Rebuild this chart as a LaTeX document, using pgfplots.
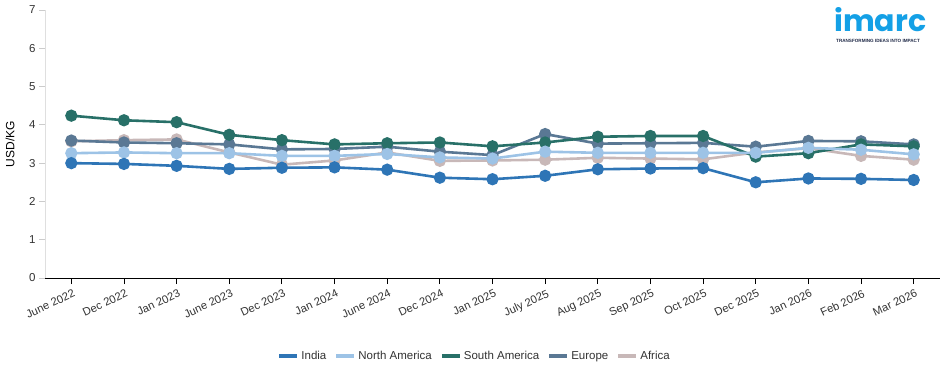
\documentclass[border=0pt]{standalone}
\usepackage{pgfplots}
\pgfplotsset{compat=1.18}
\usepackage{fontspec}
\setmainfont{Liberation Sans}
\newfontfamily\logofont{Poppins}
\definecolor{cIndia}{RGB}{46,117,182}
\definecolor{cNA}{RGB}{157,195,230}
\definecolor{cSA}{RGB}{40,112,104}
\definecolor{cEU}{RGB}{90,120,148}
\definecolor{cAF}{RGB}{200,184,184}
\definecolor{logoblue}{RGB}{20,160,230}
\definecolor{lognavy}{RGB}{30,40,70}
\definecolor{txt}{RGB}{51,51,51}
\begin{document}
\begin{tikzpicture}[x=1pt,y=1pt]
\path[use as bounding box] (0,0) rectangle (950,373);
\begin{axis}[
  at={(45pt,95pt)}, anchor=south west,
  scale only axis, width=895pt, height=268pt,
  xmin=-0.5, xmax=16.5, ymin=0, ymax=7,
  xtick={0,...,16},
  xticklabels={June 2022,Dec 2022,Jan 2023,June 2023,Dec 2023,Jan 2024,June 2024,Dec 2024,Jan 2025,July 2025,Aug 2025,Sep 2025,Oct 2025,Dec 2025,Jan 2026,Feb 2026,Mar 2026},
  xticklabel style={rotate=25, anchor=north east, font=\fontsize{11.2}{12}\selectfont, text=txt, inner sep=1pt, yshift=-4pt},
  ytick={0,...,7},
  yticklabel style={font=\fontsize{11.5}{13}\selectfont, text=txt},
  /pgf/number format/assume math mode=true,
  axis x line*=bottom, axis y line*=left,
  x axis line style={black, line width=0.9pt, -},
  y axis line style={gray!25, line width=0.8pt, -},
  xtick style={black, line width=0.9pt},
  ytick style={gray!40, line width=0.8pt},
  major tick length=6pt,
  xtick align=outside, ytick align=outside,
  ylabel={USD/KG},
  ylabel style={font=\fontsize{12}{14}\selectfont, text=black, at={(rel axis cs:-0.039,0.5)}, anchor=center},
  legend columns=5,
  legend style={at={(0.48,-0.291)}, anchor=center, draw=none, font=\fontsize{11.5}{13}\selectfont, text=txt,
    /tikz/every even column/.append style={column sep=6pt}},
  legend image code/.code={\draw[#1, line width=4pt] (0pt,0pt) -- (18pt,0pt);},
  clip=false,
  every axis plot/.append style={line width=2.6pt, mark=*, mark size=4.8pt},
]
\addlegendimage{cIndia}\addlegendentry{India}
\addlegendimage{cNA}\addlegendentry{North America}
\addlegendimage{cSA}\addlegendentry{South America}
\addlegendimage{cEU}\addlegendentry{Europe}
\addlegendimage{cAF}\addlegendentry{Africa}
\addplot[cAF, mark options={fill=cAF, draw=none}, forget plot] coordinates {
(0,3.57)(1,3.60)(2,3.62)(3,3.28)(4,2.96)(5,3.07)(6,3.28)(7,3.06)(8,3.07)(9,3.09)(10,3.14)(11,3.12)(12,3.10)(13,3.28)(14,3.39)(15,3.19)(16,3.09)};
\addplot[cEU, mark options={fill=cEU, draw=none}, forget plot] coordinates {
(0,3.59)(1,3.54)(2,3.52)(3,3.49)(4,3.36)(5,3.37)(6,3.43)(7,3.30)(8,3.21)(9,3.76)(10,3.51)(11,3.52)(12,3.53)(13,3.43)(14,3.58)(15,3.57)(16,3.49)};
\addplot[cSA, mark options={fill=cSA, draw=none}, forget plot] coordinates {
(0,4.24)(1,4.12)(2,4.07)(3,3.74)(4,3.60)(5,3.49)(6,3.52)(7,3.54)(8,3.44)(9,3.54)(10,3.69)(11,3.71)(12,3.71)(13,3.17)(14,3.26)(15,3.49)(16,3.44)};
\addplot[cNA, mark options={fill=cNA, draw=none}, forget plot] coordinates {
(0,3.26)(1,3.28)(2,3.26)(3,3.26)(4,3.19)(5,3.19)(6,3.24)(7,3.15)(8,3.12)(9,3.30)(10,3.27)(11,3.27)(12,3.27)(13,3.27)(14,3.40)(15,3.35)(16,3.23)};
\addplot[cIndia, mark options={fill=cIndia, draw=none}, forget plot] coordinates {
(0,3.00)(1,2.98)(2,2.93)(3,2.85)(4,2.88)(5,2.89)(6,2.83)(7,2.62)(8,2.58)(9,2.67)(10,2.84)(11,2.86)(12,2.87)(13,2.50)(14,2.60)(15,2.59)(16,2.56)};
\end{axis}
\node[anchor=base west, inner sep=0pt, text=logoblue, font=\logofont\bfseries\fontsize{30}{30}\selectfont] at (834,341) {imarc};
\node[anchor=base west, inner sep=0pt, text=lognavy, font=\bfseries\fontsize{4.6}{5}\selectfont] at (836,330) {TRANSFORMING IDEAS INTO IMPACT};
\end{tikzpicture}
\end{document}
